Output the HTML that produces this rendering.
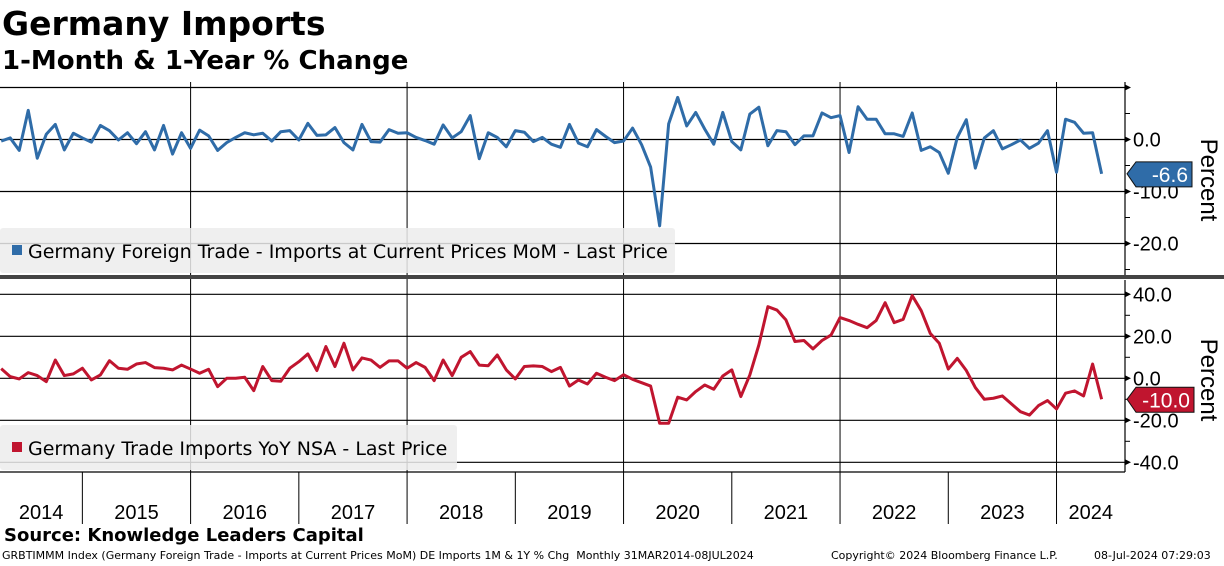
<!DOCTYPE html>
<html><head><meta charset="utf-8"><style>
body{margin:0;background:#fff;width:1224px;height:566px;overflow:hidden;font-family:"Liberation Sans","DejaVu Sans",sans-serif}
svg{position:absolute;left:0;top:0}
</style></head><body>
<svg id="c" width="1224" height="566" xmlns="http://www.w3.org/2000/svg">
<text x="2" y="35" font-size="33" font-weight="bold" font-family="DejaVu Sans, sans-serif">Germany Imports</text>
<text x="2" y="69" font-size="26" font-weight="bold" font-family="DejaVu Sans, sans-serif">1-Month &amp; 1-Year % Change</text>
<g id="grid"></g>
<g id="marks"></g>
<g id="over"></g>
</svg>
<script>
const mom=[-0.3,0.3,-2.1,5.6,-3.6,1.0,2.9,-2.0,1.2,0.3,-0.5,2.7,1.7,-0.1,1.3,-0.8,1.5,-2.0,2.7,-2.8,1.3,-1.7,1.8,0.7,-2.1,-0.6,0.4,1.3,0.9,1.2,-0.3,1.5,1.7,-0.1,3.1,0.8,0.9,2.3,-0.6,-2.0,2.9,-0.4,-0.5,1.9,1.2,1.3,0.4,-0.2,-0.9,2.8,0.3,1.5,4.6,-3.7,1.3,0.4,-1.4,1.7,1.4,-0.4,0.4,-0.9,-1.5,2.9,-0.7,-1.4,1.9,0.6,-0.6,-0.3,2.2,-1.0,-5.3,-16.6,3.0,8.1,2.6,5.2,2.0,-0.9,5.2,-0.4,-2.0,4.9,6.2,-1.2,1.7,1.5,-1.0,0.7,0.7,5.1,4.2,4.6,-2.5,6.3,3.9,3.9,1.1,1.1,0.6,5.1,-2.1,-1.4,-2.5,-6.5,0.4,3.8,-5.5,0.3,1.7,-1.8,-1.0,-0.1,-1.7,-0.7,1.7,-6.3,3.9,3.3,1.2,1.3,-6.6];
const yoy=[4.6,0.8,-0.3,2.7,1.3,-1.6,8.7,1.3,2.1,4.8,-0.8,1.6,8.4,4.8,4.3,6.8,7.5,5.1,4.8,4.0,6.3,4.4,2.4,4.3,-4.0,0,0,0.5,-5.9,5.6,-1.1,-1.4,4.8,7.9,11.6,3.7,15.1,5.6,16.7,4.0,9.7,8.7,5.2,8.3,8.3,4.8,7.5,5.2,-1.1,8.7,1.3,10.0,12.7,6.3,6.0,11.1,4.0,-0.3,5.6,5.9,5.6,3.2,5.2,-3.7,-0.8,-2.7,2.4,0.5,-1.1,1.7,-0.5,-2.1,-3.7,-21.4,-21.4,-9.0,-10.3,-6.3,-3.2,-5.2,1.1,4.0,-8.7,1.6,15.9,34.1,32.5,27.8,17.5,18.0,14.0,18.0,20.6,28.9,27.5,25.7,24.1,27.5,36.0,26.5,28.1,39.4,32.2,21.4,16.7,4.4,9.5,3.7,-4.4,-10.0,-9.5,-8.4,-12.2,-15.9,-17.5,-13.0,-10.6,-14.6,-7.1,-6.0,-8.4,6.8,-10.0];
const years=["2014","2015","2016","2017","2018","2019","2020","2021","2022","2023","2024"];
const topTicks=[10,0,-10,-20];
const topLabels=["","0.0","-10.0","-20.0"];
const botTicks=[40,20,0,-20,-40];
const botLabels=["40.0","20.0","0.0","-20.0","-40.0"];
const startYear=2014, startMonth=3;

const NS="http://www.w3.org/2000/svg";
const MPX=9.02, JAN2016=190.6, AXR=1125;
function xMonth(i){return JAN2016+((startYear-2016)*12+startMonth-1+i+1)*MPX;}
function xYear(y){return JAN2016+(y-2016)*12*MPX;}
function yTop(v){return 139.5-v*5.2;}
function yBot(v){return 378.3-v*2.1;}
function mk(p,t,a){const e=document.createElementNS(NS,t);for(const k in a)e.setAttribute(k,a[k]);p.appendChild(e);return e;}
const grid=document.getElementById('grid'),marks=document.getElementById('marks'),over=document.getElementById('over');

topTicks.forEach((v,i)=>{
  const l=mk(grid,'line',{x1:0,x2:AXR,y1:yTop(v),y2:yTop(v),stroke:'#000','stroke-width':1.2});
  
  
  mk(grid,'path',{d:`M${AXR} ${yTop(v)-3}L${AXR+6} ${yTop(v)}L${AXR} ${yTop(v)+3}Z`,fill:'#000'});
  mk(grid,'line',{x1:AXR,x2:AXR+5,y1:yTop(v-5),y2:yTop(v-5),stroke:'#000'});
  if(topLabels[i]){const t=mk(over,'text',{x:AXR+8,y:yTop(v)+7,'font-size':20});t.textContent=topLabels[i];
  
  }
});
botTicks.forEach((v,i)=>{
  const l=mk(grid,'line',{x1:0,x2:AXR,y1:yBot(v),y2:yBot(v),stroke:'#000','stroke-width':1.2});
  
  
  mk(grid,'path',{d:`M${AXR} ${yBot(v)-3}L${AXR+6} ${yBot(v)}L${AXR} ${yBot(v)+3}Z`,fill:'#000'});
  if(v>-40)mk(grid,'line',{x1:AXR,x2:AXR+5,y1:yBot(v-10),y2:yBot(v-10),stroke:'#000'});
  const t=mk(over,'text',{x:AXR+8,y:yBot(v)+7,'font-size':20});t.textContent=botLabels[i];
  
  
});
years.forEach((y,i)=>{
  const yr=+y, x=xYear(yr);
  if(yr%2===0 && yr>2014){const l=mk(grid,'line',{x1:x,x2:x,y1:82,y2:472,stroke:'#000','stroke-width':1});
    
    }
  if(yr>2014) mk(grid,'line',{x1:x,x2:x,y1:472,y2:524,stroke:'#000','stroke-width':1});
  const x0=Math.max(0,x), x1=Math.min(AXR,xYear(yr+1));
  const t=mk(over,'text',{x:(x0+x1)/2,y:519,'font-size':20,'text-anchor':'middle'});t.textContent=y;
  
  
});
mk(grid,'line',{x1:AXR,x2:AXR,y1:82,y2:276,stroke:'#000','stroke-width':1.2});
mk(grid,'line',{x1:AXR,x2:AXR,y1:280,y2:472,stroke:'#000','stroke-width':1.2});
mk(grid,'line',{x1:0,x2:AXR,y1:472,y2:472,stroke:'#000','stroke-width':1.2});
const sep=mk(grid,'rect',{x:0,y:275,width:1224,height:4,fill:'#444'});



const p1=mk(marks,'polyline',{points:mom.map((v,i)=>xMonth(i)+','+yTop(v)).join(' '),fill:'none',stroke:'#2f6ca8','stroke-width':3,'stroke-linejoin':'round'});


const p2=mk(marks,'polyline',{points:yoy.map((v,i)=>xMonth(i)+','+yBot(v)).join(' '),fill:'none',stroke:'#c0152f','stroke-width':3,'stroke-linejoin':'round'});



function legend(x,y,w,h,col,txt,name){
  const g=mk(over,'g',{});
  
  
  mk(g,'rect',{x:x,y:y,width:w,height:h,rx:3,fill:'#ececec','fill-opacity':0.85});
  mk(g,'rect',{x:x+12,y:y+17,width:10,height:10,fill:col});
  const t=mk(g,'text',{x:x+28,y:y+30,'font-size':19,'font-family':'DejaVu Sans, sans-serif'});t.textContent=txt;
}
legend(0,228,675,45,'#2f6ca8','Germany Foreign Trade - Imports at Current Prices MoM - Last Price','legend-mom');
legend(0,425,457,45,'#c0152f','Germany Trade Imports YoY NSA - Last Price','legend-yoy');

function tag(y,col,txt,w,name){
  const g=mk(over,'g',{});
  
  
  mk(g,'path',{d:`M1127 ${y}L1136 ${y-12}L${1127+w} ${y-12}L${1127+w} ${y+13}L1136 ${y+13}Z`,fill:col,stroke:'#111','stroke-width':1});
  const t=mk(g,'text',{x:1127+w-4,y:y+8,'font-size':21,fill:'#fff','text-anchor':'end'});t.textContent=txt;
}
tag(yTop(mom[mom.length-1]),'#2f6ca8',mom[mom.length-1].toFixed(1),65,'last-value-mom');
tag(yBot(yoy[yoy.length-1]),'#c0152f',yoy[yoy.length-1].toFixed(1),67,'last-value-yoy');

[[180,'top-y-axis-title'],[380,'bottom-y-axis-title']].forEach(([cy,n])=>{
  const t=mk(over,'text',{x:0,y:0,'font-size':24,'text-anchor':'middle',transform:`translate(1201 ${cy}) rotate(90)`});
  t.textContent='Percent';
  
  
});
</script>
<div style="position:absolute;left:4px;top:525px;font:bold 18px 'DejaVu Sans',sans-serif">Source: Knowledge Leaders Capital</div>
<div style="position:absolute;left:2px;top:549px;font:11px 'DejaVu Sans',sans-serif;white-space:pre">GRBTIMMM Index (Germany Foreign Trade - Imports at Current Prices MoM) DE Imports 1M &amp; 1Y % Chg  Monthly 31MAR2014-08JUL2024</div>
<div style="position:absolute;left:831px;top:549px;font:11px 'DejaVu Sans',sans-serif">Copyright© 2024 Bloomberg Finance L.P.</div>
<div style="position:absolute;left:1094px;top:549px;font:11px 'DejaVu Sans',sans-serif">08-Jul-2024 07:29:03</div>
</body></html>
